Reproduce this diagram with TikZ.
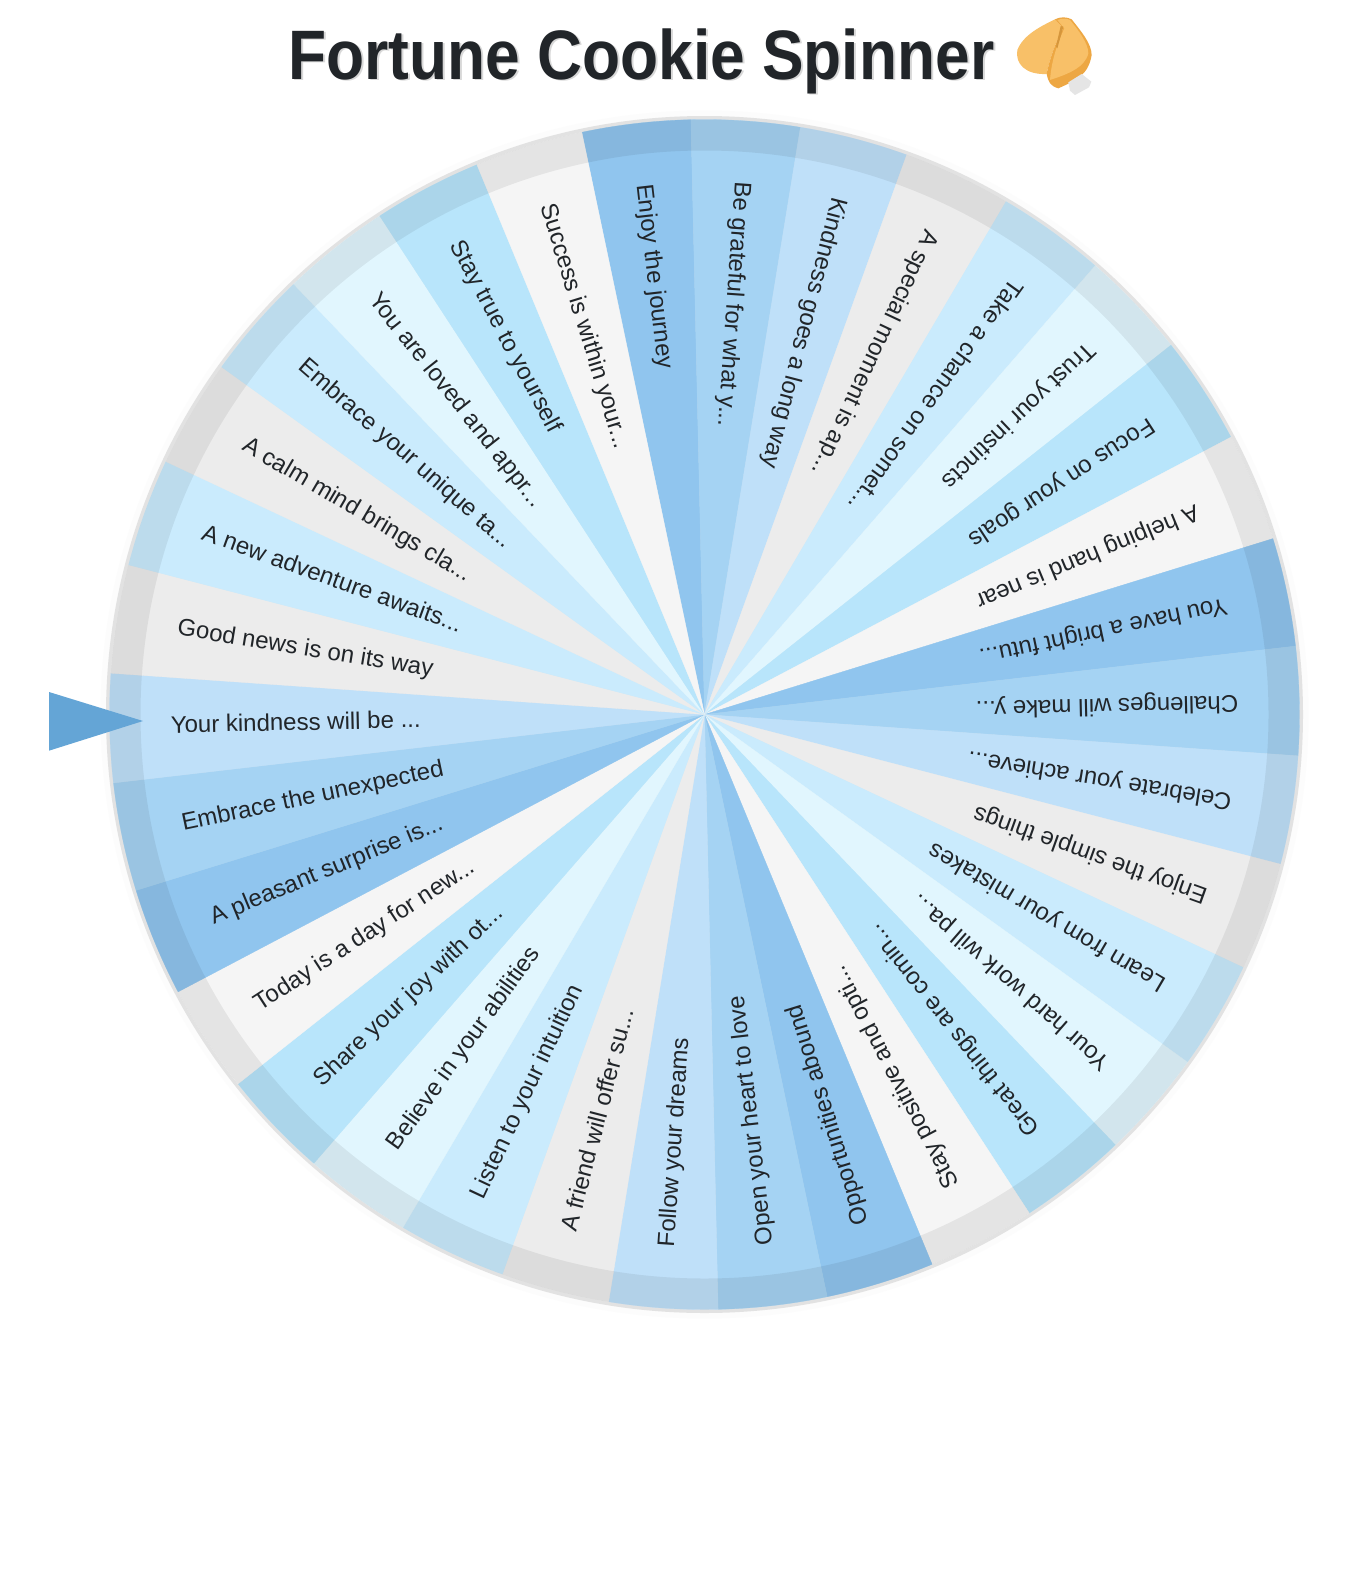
\documentclass[tikz,border=0pt]{standalone}
\usepackage{fontspec}
\usetikzlibrary{calc}
\setmainfont{Liberation Sans}
\newfontfamily\titlefont[FakeStretch=0.89]{Liberation Sans}
\newcommand\ddd{...}
\definecolor{cA}{HTML}{90C5EE}
\definecolor{cB}{HTML}{A5D3F3}
\definecolor{cC}{HTML}{BFE0F9}
\definecolor{cD}{HTML}{ECECEC}
\definecolor{cE}{HTML}{CAEBFD}
\definecolor{cF}{HTML}{E1F6FE}
\definecolor{cG}{HTML}{B8E5FB}
\definecolor{cH}{HTML}{F5F5F5}
\definecolor{inkc}{HTML}{212529}
\definecolor{pointerc}{HTML}{64A5D6}
\definecolor{rimc}{HTML}{E2E2E2}
\definecolor{cookiec}{HTML}{F8C068}
\definecolor{cookied}{HTML}{EDA743}
\tikzset{
  wedge/.style={fill=#1,draw=#1,line width=.3pt},
  wlabel/.style={anchor=west,inner sep=0pt,text height=18pt,text depth=5pt,text=inkc,font=\fontsize{24}{24}\selectfont},
  titletext/.style={anchor=base west,inner sep=0pt,font=\titlefont\fontsize{70}{70}\selectfont\bfseries}
}
\begin{document}
\begin{tikzpicture}[x=1pt,y=1pt]
\useasboundingbox (0,0) rectangle (1350,-1595);
\fill[white] (0,0) rectangle (1350,-1595);
\coordinate (C) at (704.5,-714.5);
% rim
\fill[black!1] (C) circle[radius=604];
\fill[rimc] (C) circle[radius=598.5];
% wedges
\foreach \i/\c in {0/cA,1/cB,2/cC,3/cD,4/cE,5/cF,6/cG,7/cH,8/cA,9/cB,10/cC,11/cD,12/cE,13/cF,14/cG,15/cH,16/cA,17/cB,18/cC,19/cD,20/cE,21/cF,22/cG,23/cH,24/cA,25/cB,26/cC,27/cD,28/cE,29/cD,30/cE,31/cF,32/cG,33/cH}{
  \pgfmathsetmacro{\aS}{101.9-\i*360/34}
  \pgfmathsetmacro{\aE}{\aS-360/34}
  \fill[wedge=\c] (C) -- ($(C)+(\aS:595)$) arc[start angle=\aS,end angle=\aE,radius=595] -- cycle;
}
% darker outer band
\fill[black,opacity=.065,even odd rule] (C) circle[radius=595] (C) circle[radius=564];
\foreach \i/\t in {
 0/Enjoy the journey,
 1/Be grateful for what y\ddd,
 2/Kindness goes a long way,
 3/A special moment is ap\ddd,
 4/Take a chance on somet\ddd,
 5/Trust your instincts,
 6/Focus on your goals,
 7/A helping hand is near,
 8/You have a bright futu\ddd,
 9/Challenges will make y\ddd,
 10/Celebrate your achieve\ddd,
 11/Enjoy the simple things,
 12/Learn from your mistakes,
 13/Your hard work will pa\ddd,
 14/Great things are comin\ddd,
 15/Stay positive and opti\ddd,
 16/Opportunities abound,
 17/Open your heart to love,
 18/Follow your dreams,
 19/A friend will offer su\ddd,
 20/Listen to your intuition,
 21/Believe in your abilities,
 22/Share your joy with ot\ddd,
 23/Today is a day for new\ddd,
 24/A pleasant surprise is\ddd,
 25/Embrace the unexpected,
 26/Your kindness will be \ddd,
 27/Good news is on its way,
 28/A new adventure awaits\ddd,
 29/A calm mind brings cla\ddd,
 30/Embrace your unique ta\ddd,
 31/You are loved and appr\ddd,
 32/Stay true to yourself,
 33/Success is within your\ddd}{
  \pgfmathsetmacro{\aM}{101.9-(\i+.5)*360/34}
  \pgfmathsetmacro{\aR}{\aM+180}
  \node[wlabel,rotate=\aR] (lab\i) at ($(C)+(\aM:534)$) {\t};
}
% pointer
\fill[pointerc] (49,-692) -- (143,-721) -- (49,-750.7) -- cycle;
% title
\node[titletext,text=black!30,opacity=.5] (titleshadow) at (290,-81) {Fortune Cookie Spinner};
\node[titletext,text=inkc] (title) at (288,-79) {Fortune Cookie Spinner};
% cookie
\begin{scope}[shift={(1000,0)},x=.3333pt,y=-.3333pt]
\fill[cookiec] (165,58) .. controls (120,80) and (70,105) .. (52,150) .. controls (45,190) and (75,225) .. (140,222) .. controls (150,170) and (170,120) .. (190,85) -- cycle;
\fill[cookied] (140,222) .. controls (145,245) and (150,258) .. (175,265) .. controls (230,240) and (265,225) .. (275,165) .. controls (275,130) and (240,90) .. (215,58) .. controls (200,50) and (180,50) .. (165,58) -- (190,85) .. controls (170,120) and (150,170) .. (140,222) -- cycle;
\fill[cookiec] (150,240) .. controls (195,225) and (255,205) .. (265,160) .. controls (265,130) and (235,90) .. (210,60) .. controls (200,55) and (185,55) .. (172,60) -- (193,85) .. controls (175,125) and (155,175) .. (150,240) -- cycle;
\fill[black!10] (205,247) -- (245,222) -- (274,245) -- (267,262) -- (225,285) -- (210,272) -- cycle;
\fill[cookied!90!black] (182,78) -- (190,80) -- (172,145) -- (168,140) -- cycle;
\end{scope}
\end{tikzpicture}
\end{document}
